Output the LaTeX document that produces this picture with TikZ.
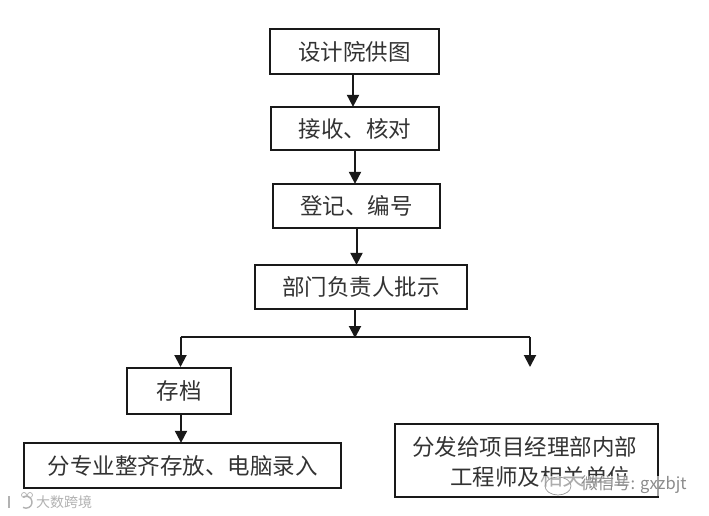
\documentclass[tikz,border=0pt]{standalone}
\usepackage{fontspec}
\newfontfamily\cjk{Noto Sans CJK SC}[Scale=1]
\usetikzlibrary{arrows.meta}
\tikzset{
  box/.style={draw=black!90,line width=2.3pt,fill=white,inner sep=0pt,font=\cjk\fontsize{22.5}{26}\selectfont,text=black!80},
  flow/.style={draw=black!90,line width=2pt,-{Triangle[length=12pt,width=12pt]},shorten >=-1pt},
  bus/.style={draw=black!90,line width=2pt},
  mark text/.style={inner sep=0pt,text=black!45,font=\cjk}
}
\begin{document}
\begin{tikzpicture}[x=1pt,y=-1pt]
\useasboundingbox (0,0) rectangle (709,516);
\fill[white] (0,0) rectangle (709,516);
\node[box,minimum width=169pt,minimum height=45pt] (a) at (354.5,51.5) {设计院供图};
\node[box,minimum width=168pt,minimum height=43pt] (b) at (355,128.5) {接收、核对};
\node[box,minimum width=167pt,minimum height=44pt] (c) at (356.5,206) {登记、编号};
\node[box,minimum width=212pt,minimum height=44pt] (d) at (361,287) {部门负责人批示};
\node[box,minimum width=104pt,minimum height=46pt] (e) at (179,391) {存档};
\node[box,minimum width=317pt,minimum height=45pt] (f) at (182.5,465.5) {分专业整齐存放、电脑录入};
\node[box,minimum width=263pt,minimum height=73pt] (g) at (526.5,460.5) {};
\node[inner sep=0pt,anchor=west,font=\cjk\fontsize{22.5}{26}\selectfont,text=black!80] (g1) at (412,447) {分发给项目经理部内部};
\node[inner sep=0pt,anchor=west,font=\cjk\fontsize{22.5}{26}\selectfont,text=black!80] (g2) at (450,477) {工程师及相关单位};
\coordinate (j) at (355,337);
\coordinate (l) at (180.5,337);
\coordinate (r) at (530,337);
\coordinate (lt) at (180.5,366);
\coordinate (rt) at (530,366);
\draw[flow] (a.south -| 353,0) -- (b.north -| 353,0);
\draw[flow] (b.south) -- (c.north -| b.south);
\draw[flow] (c.south) -- (d.north -| c.south);
\draw[flow] (d.south -| j) -- (j);
\draw[bus] (l) -- (r);
\draw[flow] (l) -- (lt);
\draw[flow] (r) -- (rt);
\draw[flow] (e.south -| 181,0) -- (f.north -| 181,0);
% watermarks
\fill[white,opacity=.6] (540,476) rectangle (695,496);
\node[mark text,anchor=west,font=\cjk\fontsize{16.5}{18}\selectfont] (w1) at (581,485) {微信号: gxzbjt};
\draw[black!40,line width=.7pt] (558,486) ellipse (13pt and 9pt);
\node[mark text,anchor=west,font=\cjk\fontsize{14}{16}\selectfont,text=black!30] (w2) at (36,502) {大数跨境};
\draw[black!30,line width=1.4pt] (9,496) -- (9,508);
\draw[black!30,line width=1.4pt] (23,497) arc (-60:-300:-6pt);
\draw[black!30,line width=.7pt] (24,495) circle (2.5pt) (30,495) circle (2.5pt);
\end{tikzpicture}
\end{document}
